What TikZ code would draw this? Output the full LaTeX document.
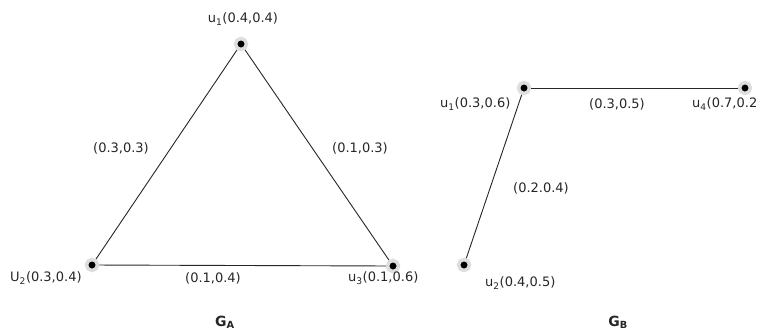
\documentclass[tikz,border=0pt]{standalone}
\usepackage{fontspec}
\setmainfont{DejaVu Sans}
\definecolor{ink}{HTML}{262626}
\definecolor{halo}{HTML}{DEDEDE}

\begin{document}
\begin{tikzpicture}[
  x=1pt, y=-1pt,
  font=\fontsize{13}{15}\selectfont,
  vert/.style={circle, fill=black, draw=halo, line width=3.5pt, minimum size=11pt, inner sep=0pt},
  link/.style={line width=0.9pt, draw=black!85},
  lab/.style={text=ink, inner sep=0pt},
  gname/.style={font=\fontsize{14}{16}\selectfont\bfseries, text=ink, inner sep=0pt}
]
\useasboundingbox (0,0) rectangle (765,333);

% graph A
\node[vert] (a1) at (241,44) {};
\node[vert] (a2) at (92,265) {};
\node[vert] (a3) at (393,266) {};
\draw[link] (a1) -- (a2);
\draw[link] (a1) -- (a3);
\draw[link] (a2) -- (a3);
\node[lab] (la1) at (243,19) {u\textsubscript{1}(0.4,0.4)};
\node[lab, anchor=west] (la2) at (10,278) {U\textsubscript{2}(0.3,0.4)};
\node[lab, anchor=west] (la3) at (348,278) {u\textsubscript{3}(0.1,0.6)};
\node[lab] (e12) at (121,148) {(0.3,0.3)};
\node[lab] (e13) at (360,148) {(0.1,0.3)};
\node[lab] (e23) at (213,278) {(0.1,0.4)};
\node[gname] (ga) at (225,322) {G\textsubscript{A}};

% graph B
\node[vert] (b1) at (524,88) {};
\node[vert] (b4) at (745,88) {};
\node[vert] (b2) at (464,265) {};
\draw[link] (b1) -- (b4);
\draw[link] (b1) -- (b2);
\node[lab, anchor=west] (lb1) at (440,104) {u\textsubscript{1}(0.3,0.6)};
\node[lab, anchor=west] (lb4) at (692,104) {u\textsubscript{4}(0.7,0.2};
\node[lab, anchor=west] (lb2) at (485,283) {u\textsubscript{2}(0.4,0.5)};
\node[lab] (f14) at (617,104) {(0.3,0.5)};
\node[lab] (f12) at (541,188) {(0.2.0.4)};
\node[gname] (gb) at (618,322) {G\textsubscript{B}};
\end{tikzpicture}
\end{document}
